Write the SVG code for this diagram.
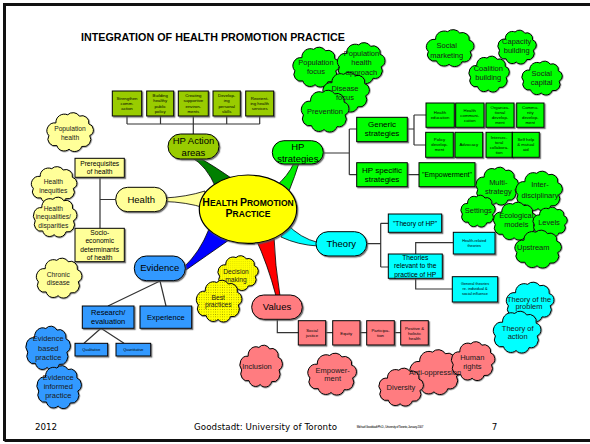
<svg xmlns="http://www.w3.org/2000/svg" xmlns:xlink="http://www.w3.org/1999/xlink" width="590" height="444" viewBox="0 0 590 444">
  <defs>
    <style>
      .t{font-family:"Liberation Sans",Arial,sans-serif;text-anchor:middle;fill:#000}
      .ct{font-family:"Liberation Sans",Arial,sans-serif;text-anchor:middle;fill:#1a1a1a}
      .b{font-weight:bold}
      .f3{font-size:3.8px}
      .f4{font-size:4.3px}
      .f67{font-size:6.7px}
      .f7{font-size:7px}
      .f75{font-size:7.5px}
      .f8{font-size:8px}
      .f95{font-size:9.5px}
      .bx{stroke:#000;stroke-width:1;filter:url(#sh)}
      .cl{stroke:#000;stroke-width:1;filter:url(#sh)}
      .olive{fill:#99cc00}
      .green{fill:#00ff00}
      .ltyel{fill:#ffff99}
      .cyan{fill:#00ffff}
      .blue{fill:#3399ff}
      .salmon{fill:#ff7c80}
      .dots{fill:url(#dotfill)}
      .ln{stroke:#333;stroke-width:1.2;fill:none}
      .br{stroke:#000;stroke-width:0.8}
      .ft{font-family:"DejaVu Sans",Verdana,sans-serif;fill:#000}
    </style>
    <filter id="sh" x="-10%" y="-10%" width="130%" height="130%">
      <feDropShadow dx="1.2" dy="1.2" stdDeviation="0.3" flood-color="#555" flood-opacity="0.8"/>
    </filter>
    <pattern id="dotfill" width="5" height="5" patternUnits="userSpaceOnUse">
      <rect width="5" height="5" fill="#ffff00"/>
      <circle cx="2.5" cy="2.5" r="0.65" fill="#000"/>
    </pattern>
    <!-- unit cloud, about 98 x 86, centred on the origin -->
    <path id="cloud" vector-effect="non-scaling-stroke" d="M-30,-20 A18,18 0 0 1 -5,-38 A16,16 0 0 1 20,-35 A15,15 0 0 1 40,-18 A14,14 0 0 1 42,8 A16,16 0 0 1 25,32 A16,16 0 0 1 -2,38 A16,16 0 0 1 -28,30 A15,15 0 0 1 -45,8 A17,17 0 0 1 -30,-20 Z"/>
  </defs>

  <rect width="590" height="444" fill="#fff"/>
  <!-- slide frame -->
  <path d="M4.5,441 V4.5 H592 M4.5,440.5 H592" fill="none" stroke="#111" stroke-width="3"/>

  <text x="81" y="41" class="t b" style="text-anchor:start;font-size:10.7px" textLength="264">INTEGRATION OF HEALTH PROMOTION PRACTICE</text>

  <!-- connectors -->
  <g id="connectors">
    <!-- HP action areas tree -->
    <path class="ln" d="M127,116 V124 M160.5,116 V124 M193.3,116 V124 M226.7,116 V124 M259.7,116 V124 M127,124 H259.7 M193.3,124 V134"/>
    <!-- HP strategies tree -->
    <path class="ln" d="M323.3,153 H349.3 M349.3,129 V174.7 M349.3,129 H356.7 M349.3,174.7 H356.7 M407.3,129 H414 M414,115 V145 M414,115 H426 M414,145 H425.7 M407.3,174.7 H419"/>
    <!-- Health tree -->
    <path class="ln" d="M115.7,199.5 H100 M100,177.3 V228.3"/>
    <!-- Theory tree -->
    <path class="ln" d="M366.7,243.7 H380.7 M380.7,223.3 V267 M380.7,223.3 H388.3 M380.7,267 H388.3 M415.7,254 V242.7 H453.3 M415.7,278.3 V289 H452.3"/>
    <!-- Evidence tree -->
    <path class="ln" d="M160,281 L108,306 M160,281 L166,306 M101,328.3 L84,343.3 M101,328.3 L124,343.3"/>
    <!-- Values tree -->
    <path class="ln" d="M277.3,319.3 V332.7 H401"/>
    <!-- tapered branches from the centre -->
    <path class="br" fill="#008000" d="M191,157 Q207,166 216,188 L234,180 Q214,166 198,157 Z"/>
    <path class="br" fill="#00ee00" d="M294,163 Q288,176 275,187 L289,191 Q295,176 299,163 Z"/>
    <path class="br" fill="#ffff99" d="M164,198 Q186,197 205,191 L205,208 Q186,202 164,201.5 Z"/>
    <path class="br" fill="#00ffff" d="M287,224 Q300,238 318,242.5 L318,246 Q298,245 281,237 Z"/>
    <path class="br" fill="#0000ff" d="M184,267 Q200,252 209,229 L229,240 Q206,256 186,270 Z"/>
    <path class="br" fill="#ff0000" d="M255,237 Q268,265 276,296 L280,296 Q275,265 274,237 Z"/>
  </g>

  <!-- centre -->
  <g id="hp-practice">
    <ellipse cx="248" cy="209.2" rx="48.7" ry="34.2" fill="#ffff00" stroke="#000" stroke-width="1.2" filter="url(#sh)"/>
    <text x="248" y="205.5" class="t b"><tspan font-size="10.5">H</tspan><tspan font-size="8.5">EALTH </tspan><tspan font-size="10.5">P</tspan><tspan font-size="8.5">ROMOTION</tspan></text>
    <text x="248" y="217.3" class="t b"><tspan font-size="10.5">P</tspan><tspan font-size="8.5">RACTICE</tspan></text>
  </g>

  <!-- HP action areas -->
  <g id="hp-action">
    <rect x="168" y="134" width="51" height="25" rx="12.5" class="bx olive"/>
    <text class="t f95"><tspan x="193.5" y="144.3">HP Action</tspan><tspan x="193.5" y="155.5">areas</tspan></text>
  </g>
  <g id="action-boxes">
    <rect x="112.3" y="91" width="29.4" height="25" class="bx olive"/>
    <rect x="146.7" y="91" width="27" height="25" class="bx olive"/>
    <rect x="178.3" y="91" width="30" height="25" class="bx olive"/>
    <rect x="213" y="91" width="27.3" height="25" class="bx olive"/>
    <rect x="245.7" y="91" width="28" height="25" class="bx olive"/>
    <text class="t f4"><tspan x="127" y="99.7">Strengthen</tspan><tspan x="127" y="105">comm.</tspan><tspan x="127" y="110.3">action</tspan></text>
    <text class="t f4"><tspan x="160.2" y="97">Building</tspan><tspan x="160.2" y="102.3">healthy</tspan><tspan x="160.2" y="107.6">public</tspan><tspan x="160.2" y="112.9">policy</tspan></text>
    <text class="t f4"><tspan x="193.3" y="97">Creating</tspan><tspan x="193.3" y="102.3">supportive</tspan><tspan x="193.3" y="107.6">environ-</tspan><tspan x="193.3" y="112.9">ments</tspan></text>
    <text class="t f4"><tspan x="226.7" y="97">Develop-</tspan><tspan x="226.7" y="102.3">ing</tspan><tspan x="226.7" y="107.6">personal</tspan><tspan x="226.7" y="112.9">skills</tspan></text>
    <text class="t f4"><tspan x="259.7" y="99.7">Reorient-</tspan><tspan x="259.7" y="105">ing health</tspan><tspan x="259.7" y="110.3">services</tspan></text>
  </g>

  <!-- HP strategies -->
  <g id="hp-strategies">
    <rect x="272.3" y="140.7" width="51" height="23.3" rx="11.6" class="bx green"/>
    <text class="t f95"><tspan x="297.8" y="150">HP</tspan><tspan x="297.8" y="161.5">strategies</tspan></text>
  </g>
  <g id="generic-strategies">
    <rect x="356.7" y="117.3" width="50.6" height="24.4" class="bx green"/>
    <text class="t f8"><tspan x="382" y="127.2">Generic</tspan><tspan x="382" y="136.2">strategies</tspan></text>
  </g>
  <g id="generic-boxes">
    <rect x="426" y="103" width="28.3" height="24.3" class="bx green"/>
    <rect x="455.7" y="103" width="28.3" height="24.3" class="bx green"/>
    <rect x="486" y="103" width="28" height="24.3" class="bx green"/>
    <rect x="516.7" y="103" width="27.3" height="24.3" class="bx green"/>
    <rect x="425.7" y="132.3" width="27.6" height="25" class="bx green"/>
    <rect x="455" y="132.3" width="27.7" height="25" class="bx green"/>
    <rect x="486" y="132.3" width="26.3" height="25" class="bx green"/>
    <rect x="512.3" y="132.3" width="27" height="25" class="bx green"/>
    <text class="t f4"><tspan x="440" y="114">Health</tspan><tspan x="440" y="119">education</tspan></text>
    <text class="t f4"><tspan x="469.8" y="111.5">Health</tspan><tspan x="469.8" y="116.5">communi-</tspan><tspan x="469.8" y="121.5">cation</tspan></text>
    <text class="t f4"><tspan x="500" y="109">Organiza-</tspan><tspan x="500" y="114">tional</tspan><tspan x="500" y="119">develop-</tspan><tspan x="500" y="124">ment</tspan></text>
    <text class="t f4"><tspan x="530.3" y="109">Commu-</tspan><tspan x="530.3" y="114">nity</tspan><tspan x="530.3" y="119">develop-</tspan><tspan x="530.3" y="124">ment</tspan></text>
    <text class="t f4"><tspan x="439.5" y="141">Policy</tspan><tspan x="439.5" y="146">develop-</tspan><tspan x="439.5" y="151">ment</tspan></text>
    <text class="t f4"><tspan x="468.8" y="146">Advocacy</tspan></text>
    <text class="t f4"><tspan x="499.1" y="138.5">Intersec-</tspan><tspan x="499.1" y="143.5">toral</tspan><tspan x="499.1" y="148.5">collabora-</tspan><tspan x="499.1" y="153.5">tion</tspan></text>
    <text class="t f4"><tspan x="525.8" y="141">Self help</tspan><tspan x="525.8" y="146">&amp; mutual</tspan><tspan x="525.8" y="151">aid</tspan></text>
  </g>
  <g id="hp-specific">
    <rect x="356.7" y="162.7" width="50.6" height="24" class="bx green"/>
    <text class="t f8"><tspan x="382" y="173.4">HP specific</tspan><tspan x="382" y="182">strategies</tspan></text>
  </g>
  <g id="empowerment-box">
    <rect x="419" y="162.7" width="56" height="24" class="bx green"/>
    <text x="447" y="176.8" class="t f7">"Empowerment"</text>
  </g>

  <!-- Health -->
  <g id="health">
    <rect x="115.7" y="187.3" width="51" height="24.4" rx="12" class="bx ltyel"/>
    <text x="141.2" y="202.5" class="t f95">Health</text>
  </g>
  <g id="prerequisites">
    <rect x="75" y="158.3" width="49.3" height="19" class="bx ltyel"/>
    <text class="t f67"><tspan x="99.7" y="166.3">Prerequisites</tspan><tspan x="99.7" y="174">of health</tspan></text>
  </g>
  <g id="socio-economic">
    <rect x="75" y="228.3" width="49.3" height="33.4" class="bx ltyel"/>
    <text class="t f67"><tspan x="99.7" y="234.6">Socio-</tspan><tspan x="99.7" y="243">economic</tspan><tspan x="99.7" y="251.6">determinants</tspan><tspan x="99.7" y="259.6">of health</tspan></text>
  </g>

  <!-- Theory -->
  <g id="theory">
    <rect x="316" y="231.7" width="50.7" height="24.3" rx="12" class="bx cyan"/>
    <text x="341.3" y="247" class="t f95">Theory</text>
  </g>
  <g id="theory-of-hp">
    <rect x="388.3" y="214" width="53.4" height="18.3" class="bx cyan"/>
    <text x="415" y="225.5" class="t f67">"Theory of HP"</text>
  </g>
  <g id="theories-relevant">
    <rect x="388.3" y="254" width="54" height="24.3" class="bx cyan"/>
    <text class="t f67"><tspan x="415.3" y="260">Theories</tspan><tspan x="415.3" y="268.3">relevant to the</tspan><tspan x="415.3" y="276.6">practice of HP</tspan></text>
  </g>
  <g id="health-related">
    <rect x="453.3" y="232.3" width="41.7" height="21.7" class="bx cyan"/>
    <text class="t f3"><tspan x="474.2" y="242">Health-related</tspan><tspan x="474.2" y="246.6">theories</tspan></text>
  </g>
  <g id="general-theories">
    <rect x="452.3" y="276.7" width="45.4" height="25.3" class="bx cyan"/>
    <text class="t f3"><tspan x="475" y="285.3">General theories</tspan><tspan x="475" y="290.3">re. individual &amp;</tspan><tspan x="475" y="295.3">social  influence</tspan></text>
  </g>

  <!-- Evidence -->
  <g id="evidence">
    <rect x="134.3" y="256" width="51" height="24.7" rx="12" class="bx blue"/>
    <text x="159.8" y="271" class="t f95">Evidence</text>
  </g>
  <g id="research">
    <rect x="82.3" y="306" width="51.7" height="22.3" class="bx blue"/>
    <text class="t f75"><tspan x="108.2" y="315">Research/</tspan><tspan x="108.2" y="324.3">evaluation</tspan></text>
  </g>
  <g id="experience">
    <rect x="140" y="306" width="51.7" height="22.3" class="bx blue"/>
    <text x="165.8" y="320" class="t f75">Experience</text>
  </g>
  <g id="qualitative">
    <rect x="75" y="343.3" width="32.7" height="12.7" class="bx blue"/>
    <text x="91.3" y="350.7" class="t f3">Qualitative</text>
  </g>
  <g id="quantitative">
    <rect x="116" y="343.3" width="34.7" height="12.7" class="bx blue"/>
    <text x="133.3" y="350.7" class="t f3">Quantitative</text>
  </g>

  <!-- Values -->
  <g id="values">
    <rect x="251.7" y="295" width="50.6" height="24.3" rx="12" class="bx salmon"/>
    <text x="277" y="310" class="t f95">Values</text>
  </g>
  <g id="value-boxes">
    <rect x="298.3" y="320.7" width="27.4" height="24.3" class="bx salmon"/>
    <rect x="332.7" y="320.7" width="27.3" height="24.3" class="bx salmon"/>
    <rect x="366.7" y="320.7" width="27.6" height="24.3" class="bx salmon"/>
    <rect x="400.7" y="320.7" width="27.6" height="24.3" class="bx salmon"/>
    <text class="t f4"><tspan x="312" y="332">Social</tspan><tspan x="312" y="337">justice</tspan></text>
    <text x="346.3" y="334.5" class="t f4">Equity</text>
    <text class="t f4"><tspan x="380.5" y="332">Participa-</tspan><tspan x="380.5" y="337">tion</tspan></text>
    <text class="t f4"><tspan x="414.5" y="329.5">Positive &amp;</tspan><tspan x="414.5" y="334.5">holistic</tspan><tspan x="414.5" y="339.5">health</tspan></text>
  </g>

  <!-- green clouds: approaches (labels drawn above the overlapping shapes) -->
  <g id="population-focus">
    <use xlink:href="#cloud" class="cl green" transform="translate(316,67) scale(0.469,0.465)"/>
  </g>
  <g id="population-health-approach">
    <use xlink:href="#cloud" class="cl green" transform="translate(361,63) scale(0.48,0.477)"/>
  </g>
  <g id="disease-focus">
    <use xlink:href="#cloud" class="cl green" transform="translate(346,92) scale(0.469,0.465)"/>
  </g>
  <g id="prevention">
    <use xlink:href="#cloud" class="cl green" transform="translate(325,111) scale(0.48,0.488)"/>
  </g>
  <g id="approach-labels">
    <text class="ct f75"><tspan x="316" y="65.3">Population</tspan><tspan x="316" y="74.3">focus</tspan></text>
    <text class="ct f75"><tspan x="361.5" y="56">Population</tspan><tspan x="361.5" y="65.3">health</tspan><tspan x="361.5" y="75">approach</tspan></text>
    <text class="ct f75"><tspan x="345" y="91">Disease</tspan><tspan x="345" y="100">focus</tspan></text>
    <text x="325" y="113.6" class="ct f75">Prevention</text>
  </g>

  <!-- green clouds: methods -->
  <g id="social-marketing">
    <use xlink:href="#cloud" class="cl green" transform="translate(450,48) scale(0.48,0.43)"/>
    <text class="ct f75"><tspan x="446.7" y="48.3">Social</tspan><tspan x="446.7" y="57.6">marketing</tspan></text>
  </g>
  <g id="capacity-building">
    <use xlink:href="#cloud" class="cl green" transform="translate(517,47) scale(0.388,0.395)"/>
    <text class="ct f75"><tspan x="516.7" y="44.3">Capacity</tspan><tspan x="516.7" y="53.3">building</tspan></text>
  </g>
  <g id="coalition-building">
    <use xlink:href="#cloud" class="cl green" transform="translate(489,74) scale(0.408,0.419)"/>
    <text class="ct f75"><tspan x="488.3" y="71">Coalition</tspan><tspan x="488.3" y="80">building</tspan></text>
  </g>
  <g id="social-capital">
    <use xlink:href="#cloud" class="cl green" transform="translate(542,78) scale(0.408,0.395)"/>
    <text class="ct f75"><tspan x="541.7" y="76">Social</tspan><tspan x="541.7" y="85">capital</tspan></text>
  </g>

  <!-- green clouds: principles -->
  <g id="multi-strategy">
    <use xlink:href="#cloud" class="cl green" transform="translate(497,186) scale(0.429,0.442)"/>
    <text class="ct f75"><tspan x="498.3" y="185.3">Multi-</tspan><tspan x="498.3" y="194.3">strategy</tspan></text>
  </g>
  <g id="inter-disciplinary">
    <use xlink:href="#cloud" class="cl green" transform="translate(539,191) scale(0.469,0.465)"/>
    <text class="ct f75"><tspan x="540" y="187">Inter-</tspan><tspan x="540" y="197.6">disciplinary</tspan></text>
  </g>
  <g id="settings">
    <use xlink:href="#cloud" class="cl green" transform="translate(478,211) scale(0.347,0.372)"/>
    <text x="478.3" y="213.3" class="ct f75">Settings</text>
  </g>
  <g id="ecological-models">
    <use xlink:href="#cloud" class="cl green" transform="translate(515,221) scale(0.439,0.442)"/>
    <text class="ct f75"><tspan x="516.3" y="218.3">Ecological</tspan><tspan x="516.3" y="227.3">models</tspan></text>
  </g>
  <g id="levels">
    <use xlink:href="#cloud" class="cl green" transform="translate(550,222) scale(0.347,0.349)"/>
    <text x="549" y="225.3" class="ct f75">Levels</text>
  </g>
  <g id="upstream">
    <use xlink:href="#cloud" class="cl green" transform="translate(538,249) scale(0.469,0.442)"/>
    <text x="533.3" y="250" class="ct f75">Upstream</text>
  </g>

  <!-- yellow clouds -->
  <g id="population-health">
    <use xlink:href="#cloud" class="cl ltyel" transform="translate(70,132) scale(0.469,0.453)"/>
    <text class="ct f67"><tspan x="70" y="131.3">Population</tspan><tspan x="70" y="139.6">health</tspan></text>
  </g>
  <g id="health-inequities">
    <use xlink:href="#cloud" class="cl ltyel" transform="translate(54,185) scale(0.459,0.43)"/>
    <text class="ct f67"><tspan x="53.3" y="184">Health</tspan><tspan x="53.3" y="193">inequities</tspan></text>
  </g>
  <g id="health-inequalities">
    <use xlink:href="#cloud" class="cl ltyel" transform="translate(55,217) scale(0.439,0.465)"/>
    <text class="ct f67"><tspan x="53.3" y="211">Health</tspan><tspan x="53.3" y="219.2">inequalities/</tspan><tspan x="53.3" y="227.6">disparities</tspan></text>
  </g>
  <g id="chronic-disease">
    <use xlink:href="#cloud" class="cl ltyel" transform="translate(59,278) scale(0.459,0.465)"/>
    <text class="ct f67"><tspan x="58.3" y="277.3">Chronic</tspan><tspan x="58.3" y="285">disease</tspan></text>
  </g>

  <!-- blue clouds -->
  <g id="evidence-based">
    <use xlink:href="#cloud" class="cl blue" transform="translate(48,348) scale(0.449,0.512)"/>
    <text class="ct f75"><tspan x="48.3" y="341">Evidence</tspan><tspan x="48.3" y="351">based</tspan><tspan x="48.3" y="360.4">practice</tspan></text>
  </g>
  <g id="evidence-informed">
    <use xlink:href="#cloud" class="cl blue" transform="translate(59,387) scale(0.449,0.5)"/>
    <text class="ct f75"><tspan x="58.3" y="380">Evidence</tspan><tspan x="58.3" y="389.4">informed</tspan><tspan x="58.3" y="398.4">practice</tspan></text>
  </g>

  <!-- dotted clouds -->
  <g id="decision-making">
    <use xlink:href="#cloud" class="cl dots" transform="translate(238,273) scale(0.408,0.405)"/>
    <text class="ct f67"><tspan x="236" y="273.6">Decision</tspan><tspan x="236" y="282.4">making</tspan></text>
  </g>
  <g id="best-practices">
    <use xlink:href="#cloud" class="cl dots" transform="translate(219,301) scale(0.459,0.488)"/>
    <text class="ct f67"><tspan x="218.3" y="299.6">Best</tspan><tspan x="218.3" y="307.3">practices</tspan></text>
  </g>

  <!-- salmon clouds -->
  <g id="inclusion">
    <use xlink:href="#cloud" class="cl salmon" transform="translate(261,366) scale(0.429,0.488)"/>
    <text x="257" y="368.6" class="ct f75">Inclusion</text>
  </g>
  <g id="empowerment">
    <use xlink:href="#cloud" class="cl salmon" transform="translate(332,374) scale(0.49,0.488)"/>
    <text class="ct f75"><tspan x="332.7" y="372.6">Empower-</tspan><tspan x="332.7" y="381">ment</tspan></text>
  </g>
  <g id="anti-oppression">
    <use xlink:href="#cloud" class="cl salmon" transform="translate(435,372) scale(0.51,0.523)"/>
  </g>
  <g id="diversity">
    <use xlink:href="#cloud" class="cl salmon" transform="translate(401,387) scale(0.449,0.442)"/>
    <text x="401" y="389.6" class="ct f75">Diversity</text>
  </g>
  <g id="human-rights">
    <use xlink:href="#cloud" class="cl salmon" transform="translate(473,361) scale(0.439,0.453)"/>
    <text class="ct f75"><tspan x="472.3" y="360">Human</tspan><tspan x="472.3" y="368.6">rights</tspan></text>
  </g>
  <g id="anti-oppression-label">
    <text x="435" y="375" class="ct f75">Anti-oppression</text>
  </g>

  <!-- cyan clouds -->
  <g id="theory-of-problem">
    <use xlink:href="#cloud" class="cl cyan" transform="translate(530,302) scale(0.48,0.465)"/>
    <text class="ct f75"><tspan x="529" y="301.6">Theory of the</tspan><tspan x="529" y="309.3">problem</tspan></text>
  </g>
  <g id="theory-of-action">
    <use xlink:href="#cloud" class="cl cyan" transform="translate(517,332) scale(0.48,0.488)"/>
    <text class="ct f75"><tspan x="517.7" y="331">Theory of</tspan><tspan x="517.7" y="339.3">action</tspan></text>
  </g>

  <!-- footer -->
  <g id="footer">
    <text x="35" y="430" class="ft" font-size="8.7">2012</text>
    <text x="194" y="430" class="ft" font-size="8.7" textLength="143">Goodstadt: University of Toronto</text>
    <text x="356.7" y="428" class="t" style="text-anchor:start;font-size:3px" textLength="66.7">Michael Goodstadt Ph.D., University of Toronto, January 2007</text>
    <text x="491.7" y="430" class="ft" font-size="8.7">7</text>
  </g>
</svg>
